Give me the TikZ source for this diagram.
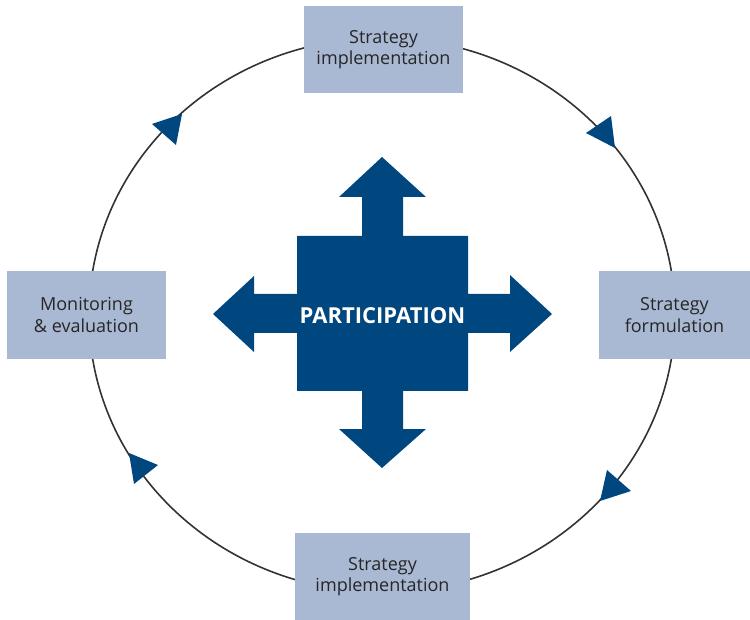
\documentclass[tikz,border=0pt]{standalone}
\usepackage{fontspec}
\setmainfont{Open Sans}
\definecolor{boxblue}{RGB}{169,185,212}
\definecolor{darkblue}{RGB}{0,70,127}
\definecolor{ringgray}{RGB}{51,51,51}
\begin{document}
\begin{tikzpicture}[x=1pt,y=-1pt,
  stagebox/.style={fill=boxblue,draw=none,align=center,inner sep=0pt,
    font=\fontsize{18}{21.5}\selectfont,text=black!85},
  headtri/.style={fill=darkblue,draw=none},
  ring/.style={draw=ringgray,line width=1.6pt}]
\useasboundingbox (0,0) rectangle (750,620);
% ring
\draw[ring] (382,315) ellipse [x radius=293, y radius=277];
% arrowheads on the ring
\fill[headtri] (152,124) -- (182,114) -- (176,145) -- cycle;
\fill[headtri] (586,133) -- (611,116) -- (615,148) -- cycle;
\fill[headtri] (607,470) -- (631,491) -- (600,501) -- cycle;
\fill[headtri] (129,453) -- (158,465) -- (134,484) -- cycle;
% stage boxes
\node[stagebox,minimum width=159pt,minimum height=87pt] (top) at (383.5,49.5) {Strategy\\implementation};
\node[stagebox,minimum width=159pt,minimum height=88pt] (left) at (86.5,315) {Monitoring\\\& evaluation};
\node[stagebox,minimum width=151pt,minimum height=88pt] (right) at (674.5,315) {Strategy\\formulation};
\node[stagebox,minimum width=175pt,minimum height=87pt] (bottom) at (382.5,576.5) {Strategy\\implementation};
% central cross of arrows
\fill[darkblue] (382,157) -- (426,197) -- (403,197) -- (403,236) -- (468,236) -- (468,294)
  -- (510,294) -- (510,275) -- (552,314) -- (510,352) -- (510,333) -- (468,333) -- (468,391)
  -- (403,391) -- (403,429) -- (426,429) -- (382,468) -- (339,429) -- (362,429) -- (362,391)
  -- (297,391) -- (297,333) -- (254,333) -- (254,352) -- (213,314) -- (254,276) -- (254,294)
  -- (297,294) -- (297,236) -- (362,236) -- (362,197) -- (339,197) -- cycle;
\node[text=white,font=\fontsize{22}{26}\selectfont\bfseries,inner sep=0pt] (part) at (382.5,315.5) {PARTICIPATION};
\end{tikzpicture}
\end{document}
